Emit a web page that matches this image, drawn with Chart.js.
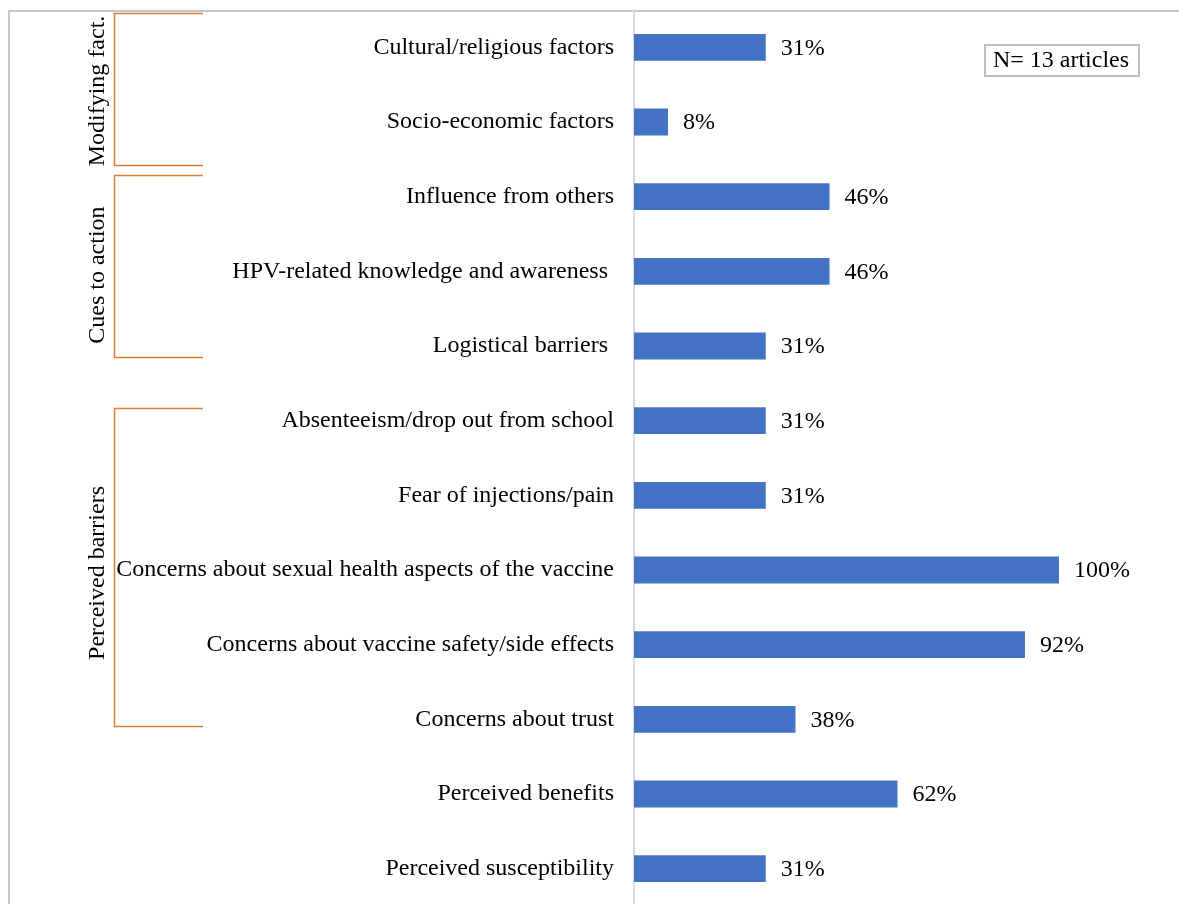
<!DOCTYPE html>
<html>
<head>
<meta charset="utf-8">
<script src="https://cdn.jsdelivr.net/npm/chart.js@4/dist/chart.umd.min.js"></script>
<style>
  html, body { margin: 0; padding: 0; background: #fff; overflow: hidden; }
  #wrap { position: relative; width: 1179px; height: 912px; }
</style>
</head>
<body>
<div id="wrap"><canvas id="hbm"></canvas></div>
<script>
// factors reported across the included articles (% of articles)
const factors = [
  "Cultural/religious factors",
  "Socio-economic factors",
  "Influence from others",
  "HPV-related knowledge and awareness ",
  "Logistical barriers ",
  "Absenteeism/drop out from school",
  "Fear of injections/pain",
  "Concerns about sexual health aspects of the vaccine",
  "Concerns about vaccine safety/side effects",
  "Concerns about trust",
  "Perceived benefits",
  "Perceived susceptibility"
];
const pctArticles = [31, 8, 46, 46, 31, 31, 31, 100, 92, 38, 62, 31];

// HBM constructs, spans given in row units (0 = first row)
const groupNames = ["Modifying fact.", "Cues to action", "Perceived barriers"];
const groupFrom = [-0.46, 1.71, 4.83];
const groupTo = [1.58, 4.15, 9.09];
const groupMid = [0.585, 3.05, 7.04];

const sampleNote = "N= 13 articles";

const serif = "'Times New Roman', 'Liberation Serif', serif";

const framePlugin = {
  id: "frame",
  beforeDraw(chart) {
    const ctx = chart.ctx;
    ctx.save();
    ctx.strokeStyle = "#c6c6c6";
    ctx.lineWidth = 2;
    ctx.strokeRect(9, 11, 1300, 1200);
    ctx.restore();
  }
};

const valueLabels = {
  id: "valueLabels",
  afterDatasetsDraw(chart) {
    const ctx = chart.ctx;
    const meta = chart.getDatasetMeta(0);
    ctx.save();
    ctx.font = "24px " + serif;
    ctx.fillStyle = "#000";
    ctx.textAlign = "left";
    ctx.textBaseline = "middle";
    meta.data.forEach((bar, i) => {
      ctx.fillText(pctArticles[i] + "%", bar.x + 15, bar.y + 1);
    });
    ctx.restore();
  }
};

const groupBrackets = {
  id: "groupBrackets",
  afterDraw(chart) {
    const ctx = chart.ctx;
    const y = chart.scales.y;
    ctx.save();
    ctx.strokeStyle = "#E27B34";
    ctx.lineWidth = 1.5;
    groupNames.forEach((name, i) => {
      const top = Math.round(y.getPixelForValue(groupFrom[i])) + 0.5;
      const bot = Math.round(y.getPixelForValue(groupTo[i])) + 0.5;
      ctx.beginPath();
      ctx.moveTo(203, top);
      ctx.lineTo(114.5, top);
      ctx.lineTo(114.5, bot);
      ctx.lineTo(203, bot);
      ctx.stroke();

      ctx.save();
      ctx.translate(98, y.getPixelForValue(groupMid[i]));
      ctx.rotate(-Math.PI / 2);
      ctx.font = "24px " + serif;
      ctx.fillStyle = "#000";
      ctx.textAlign = "center";
      ctx.textBaseline = "middle";
      ctx.fillText(name, 0, 0);
      ctx.restore();
    });

    // sample size box
    ctx.strokeStyle = "#bfbfbf";
    ctx.lineWidth = 2;
    ctx.strokeRect(985, 45, 154, 31);
    ctx.font = "24px " + serif;
    ctx.fillStyle = "#000";
    ctx.textAlign = "center";
    ctx.textBaseline = "middle";
    ctx.fillText(sampleNote, 1061, 61);
    ctx.restore();
  }
};

new Chart(document.getElementById("hbm"), {
  type: "bar",
  data: {
    labels: factors,
    datasets: [{
      data: pctArticles,
      backgroundColor: "#4472C4",
      borderWidth: 0,
      categoryPercentage: 1,
      barPercentage: 0.36
    }]
  },
  options: {
    indexAxis: "y",
    responsive: true,
    maintainAspectRatio: false,
    animation: false,
    layout: { padding: { top: 10, bottom: 6, left: 0, right: 35 } },
    plugins: {
      legend: { display: false },
      tooltip: { enabled: false }
    },
    scales: {
      x: {
        display: false,
        min: 0,
        max: 120
      },
      y: {
        afterFit: (scale) => {
          scale.width = 634;
          // no extra room above/below for the first and last label
          scale.paddingTop = 0;
          scale.paddingBottom = 0;
        },
        grid: { display: false, drawTicks: false },
        border: { display: true, color: "#d9d9d9", width: 2 },
        ticks: {
          padding: 20,
          color: "#000",
          font: { family: serif, size: 24 }
        }
      }
    }
  },
  plugins: [framePlugin, valueLabels, groupBrackets]
});
</script>
</body>
</html>
